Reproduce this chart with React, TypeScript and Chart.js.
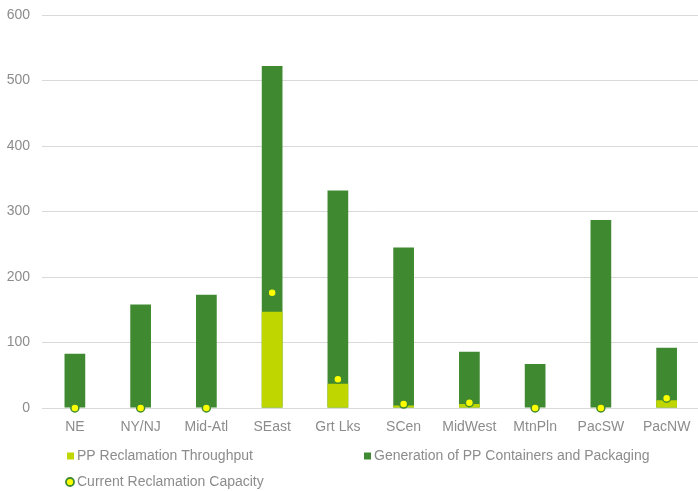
import React, { useEffect, useRef } from "react";
import { Chart, registerables } from "chart.js";

Chart.register(...registerables);

const categories = ["NE", "NY/NJ", "Mid-Atl", "SEast", "Grt Lks", "SCen", "MidWest", "MtnPln", "PacSW", "PacNW"];
const throughput = [0, 0, 0, 147, 37, 4, 6, 0, 0, 12];
const generation = [83, 158, 173, 522, 332, 245, 86, 67, 287, 92];
const capacity = [0, 0, 0, 176, 44, 6, 8, 0, 0, 15];
const yTicks = [0, 100, 200, 300, 400, 500, 600];

const LIGHT = "#bfd600";
const DARK = "#3f8a30";
const YELLOW = "#ffff00";
const TEXT = "#8c8c8c";
const FONT = "'Liberation Sans', Arial, sans-serif";

const legendPlugin = {
  id: "customLegend",
  afterDraw(chart: any) {
    const ctx = chart.ctx;
    ctx.save();
    ctx.font = `14px ${FONT}`;
    ctx.textBaseline = "middle";
    const ds = chart.data.datasets;
    const find = (lbl: string) => ds.find((d: any) => d.label === lbl);
    const items = [
      { d: find("PP Reclamation Throughput"), x: 67, y: 456, kind: "box" },
      { d: find("Generation of PP Containers and Packaging"), x: 364, y: 456, kind: "box" },
      { d: find("Current Reclamation Capacity"), x: 66, y: 482, kind: "circle" },
    ];
    for (const it of items) {
      const d = it.d;
      if (it.kind === "box") {
        ctx.fillStyle = d.backgroundColor;
        ctx.fillRect(it.x, it.y - 3.5, 7, 7);
        ctx.fillStyle = TEXT;
        ctx.fillText(d.label, it.x + 10, it.y + 0.5);
      } else {
        ctx.beginPath();
        ctx.arc(it.x + 4, it.y, 4, 0, Math.PI * 2);
        ctx.fillStyle = d.pointBackgroundColor;
        ctx.fill();
        ctx.lineWidth = 1.8;
        ctx.strokeStyle = d.pointBorderColor;
        ctx.stroke();
        ctx.fillStyle = TEXT;
        ctx.fillText(d.label, it.x + 11, it.y + 0.5);
      }
    }
    ctx.restore();
  },
};

function ChartView() {
  const ref = useRef<HTMLCanvasElement | null>(null);
  useEffect(() => {
    if (!ref.current) return;
    const chart = new Chart(ref.current, {
      type: "bar",
      data: {
        labels: categories,
        datasets: [
          {
            label: "PP Reclamation Throughput",
            data: throughput,
            backgroundColor: LIGHT,
            order: 1,
          },
          {
            label: "Generation of PP Containers and Packaging",
            data: generation,
            backgroundColor: DARK,
            order: 2,
          },
          {
            type: "line",
            label: "Current Reclamation Capacity",
            data: capacity,
            showLine: false,
            clip: false,
            backgroundColor: YELLOW,
            borderColor: DARK,
            pointBackgroundColor: YELLOW,
            pointBorderColor: DARK,
            pointBorderWidth: 1.5,
            pointRadius: 4,
            order: 0,
          } as any,
        ],
      },
      options: {
        animation: false,
        responsive: false,
        maintainAspectRatio: false,
        layout: { padding: { top: 15, right: 0, bottom: 50, left: 0 } },
        datasets: { bar: { categoryPercentage: 1, barPercentage: 0.315, grouped: false } },
        plugins: { legend: { display: false }, tooltip: { enabled: false } },
        scales: {
          x: {
            stacked: true,
            grid: { display: false, drawTicks: false },
            border: { display: false },
            ticks: { color: TEXT, font: { family: FONT, size: 14 }, padding: 11, maxRotation: 0, autoSkip: false },
            afterFit: (s: any) => { s.height = 33; s.paddingLeft = 0; s.paddingRight = 0; },
          },
          y: {
            stacked: false,
            min: 0,
            max: 600,
            afterBuildTicks: (s: any) => { s.ticks = yTicks.map((v) => ({ value: v })); },
            grid: { color: "#d9d9d9", lineWidth: 1, drawTicks: false },
            border: { display: false },
            ticks: { color: TEXT, font: { family: FONT, size: 14 }, padding: 12 },
            afterFit: (s: any) => { s.width = 42; s.paddingTop = 0; s.paddingBottom = 0; },
          },
        },
      },
      plugins: [legendPlugin],
    });
    return () => chart.destroy();
  }, []);
  return <canvas ref={ref} width={705} height={491} style={{ display: "block", width: 705, height: 491 }} />;
}

export default function App() {
  return (
    <div style={{ position: "fixed", left: 0, top: 0, width: 698, height: 491, overflow: "hidden", background: "#fff" }}>
      <ChartView />
    </div>
  );
}
